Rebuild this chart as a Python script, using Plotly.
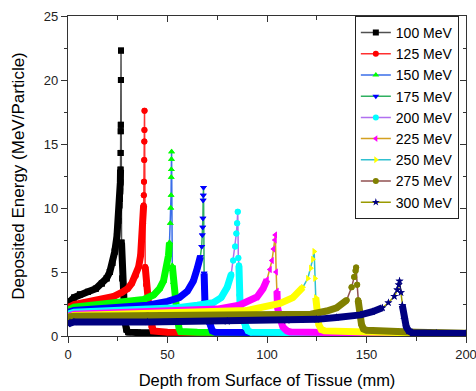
import plotly.graph_objects as go

# ---------------- data ----------------
energies = ["100 MeV", "125 MeV", "150 MeV", "175 MeV", "200 MeV",
            "225 MeV", "250 MeV", "275 MeV", "300 MeV"]

depth_100 = [0, 1, 3, 6, 10, 14, 17, 19.4, 21, 22.3, 23.5, 24.6, 25.3, 25.8, 26.05, 26.2, 26.3,
             26.4, 26.45, 26.5, 26.55, 26.6, 26.65, 26.9, 27.3, 27.8, 28.6, 29.4, 30.3, 35, 50,
             75, 100, 125, 150, 175, 200]
dose_100 = [2.2, 2.7, 3.0, 3.25, 3.45, 3.7, 4.1, 4.5, 5.0, 5.7, 6.6, 7.8, 9.0, 10.2, 10.7,
            11.3, 12.0, 13.0, 14.3, 16.0, 16.5, 20.0, 22.3, 7.3, 4.5, 2.6, 1.1, 0.5, 0.3, 0.27,
            0.25, 0.23, 0.21, 0.19, 0.17, 0.15, 0.13]

depth_125 = [0, 1, 3, 8, 13, 18, 23, 27, 30, 32, 34, 35.5, 36.5, 37.2, 37.7, 38.0, 38.1,
             38.2, 38.3, 38.35, 38.4, 38.45, 38.8, 39.3, 40.5, 41.3, 42.0, 42.8, 50, 75, 100,
             125, 150, 175, 200]
dose_125 = [1.95, 2.3, 2.45, 2.6, 2.75, 2.9, 3.1, 3.4, 3.7, 4.1, 4.7, 5.4, 6.3, 7.5, 8.8,
            10.2, 11.0, 12.05, 13.75, 15.2, 16.1, 17.6, 5.4, 4.0, 2.5, 1.5, 0.7, 0.4, 0.3,
            0.27, 0.24, 0.21, 0.18, 0.16, 0.14]

depth_150 = [0, 1, 3, 10, 20, 30, 38, 43, 46, 48, 49.5, 50.5, 51.0, 51.4, 51.65, 51.8,
             51.88, 51.94, 52.0, 52.05, 52.4, 53.0, 54.0, 55.0, 55.8, 56.5, 65, 80, 100, 125,
             150, 175, 200]
dose_150 = [1.8, 2.1, 2.25, 2.35, 2.5, 2.65, 2.85, 3.2, 3.7, 4.3, 5.2, 6.3, 7.3, 8.8, 10.0,
            11.0, 12.4, 13.0, 13.8, 14.4, 5.5, 4.2, 2.8, 1.4, 0.6, 0.35, 0.3, 0.27, 0.24,
            0.21, 0.18, 0.16, 0.14]

depth_175 = [0, 1, 3, 15, 30, 40, 50, 56, 60, 63, 65, 66.5, 67.2, 67.5, 67.7, 67.8, 67.9,
             68.0, 68.1, 68.4, 68.6, 68.8, 70.0, 71.2, 72.5, 74, 90, 110, 130, 150, 175, 200]
dose_175 = [1.65, 1.9, 2.0, 2.1, 2.2, 2.4, 2.7, 3.0, 3.5, 4.3, 5.3, 6.2, 7.0, 7.9, 8.5, 9.2,
            10.6, 11.0, 11.6, 4.9, 3.6, 2.7, 1.6, 0.8, 0.4, 0.3, 0.27, 0.24, 0.21, 0.18, 0.16,
            0.14]

depth_200 = [0, 1, 3, 20, 40, 55, 65, 73, 77, 80, 82, 83, 84, 84.6, 85.0, 85.3, 85.6, 85.9,
             86.2, 86.5, 87.5, 89.0, 90.5, 92, 110, 130, 150, 175, 200]
dose_200 = [1.55, 1.75, 1.85, 1.95, 2.05, 2.2, 2.4, 2.6, 3.0, 3.8, 4.8, 5.9, 7.0, 8.0, 8.8,
            9.7, 6.1, 5.5, 3.2, 2.2, 1.4, 0.7, 0.4, 0.3, 0.27, 0.24, 0.21, 0.18, 0.15]

depth_225 = [0, 1, 3, 30, 56, 75, 86, 95, 98, 100, 101.5, 102.5, 103.3, 104.0, 104.2, 104.6,
             105.0, 105.3, 106.5, 108, 110, 111.5, 130, 150, 175, 200]
dose_225 = [1.45, 1.6, 1.7, 1.8, 1.9, 2.1, 2.4, 3.05, 3.7, 4.4, 5.2, 5.9, 6.8, 7.5, 7.9, 5.0,
            3.5, 2.2, 1.4, 0.7, 0.4, 0.32, 0.28, 0.24, 0.2, 0.16]

depth_250 = [0, 1, 3, 30, 56, 90, 106.5, 113, 118, 120.5, 122, 123, 123.7, 124.1, 124.5,
             125.0, 126.0, 127.3, 129, 150, 175, 200]
dose_250 = [1.35, 1.5, 1.6, 1.7, 1.8, 2.0, 2.55, 3.0, 3.8, 4.5, 5.3, 6.0, 6.6, 4.5, 3.0, 1.8,
            0.9, 0.5, 0.4, 0.32, 0.25, 0.18]

depth_275 = [0, 1, 3, 40, 80, 110, 122, 130, 135, 140, 142.5, 143.8, 144.5, 144.8, 145.3,
             145.8, 146.5, 147.5, 148.5, 150, 175, 200]
dose_275 = [1.3, 1.5, 1.55, 1.6, 1.62, 1.65, 1.7, 1.95, 2.2, 2.8, 3.8, 4.6, 5.1, 5.35, 4.0,
            2.8, 1.6, 0.9, 0.55, 0.45, 0.3, 0.22]

depth_300 = [0, 1, 3, 40, 80, 110, 125, 135, 147, 153, 158, 161, 164, 165.5, 166.2, 166.6,
             167.3, 168.0, 169.0, 170.0, 171.2, 173, 185, 200]
dose_300 = [0.95, 1.05, 1.1, 1.1, 1.15, 1.22, 1.3, 1.45, 1.65, 1.9, 2.2, 2.6, 3.1, 3.6, 4.0,
            4.3, 3.4, 2.4, 1.3, 0.7, 0.4, 0.25, 0.22, 0.2]

depths = [depth_100, depth_125, depth_150, depth_175, depth_200,
          depth_225, depth_250, depth_275, depth_300]
doses = [dose_100, dose_125, dose_150, dose_175, dose_200,
         dose_225, dose_250, dose_275, dose_300]

x_ticks = [0, 50, 100, 150, 200]
y_ticks = [0, 5, 10, 15, 20, 25]

# ---------------- styles ----------------
marker_colors = ["#000000", "#ff0000", "#00ff00", "#0000ff", "#00ffff",
                 "#ff00ff", "#ffff00", "#808000", "#000080"]
line_colors = ["#505050", "#ff3030", "#3a6ee8", "#2fb060", "#b070f0",
               "#d4a020", "#30c0d0", "#905050", "#9a9a00"]
symbols = ["square", "circle", "triangle-up", "triangle-down", "circle",
           "triangle-left", "triangle-right", "circle", "star"]

FONT = "Liberation Sans, Arial, sans-serif"

fig = go.Figure()

for name, xs, ys, mc, lc, sym in zip(energies, depths, doses, marker_colors,
                                     line_colors, symbols):
    peak = max(ys)
    band = [v if v <= 0.6 * peak else None for v in ys]
    marker = dict(symbol=sym, color=mc, size=6, line=dict(width=0))
    # connecting line with markers (legend entry)
    fig.add_trace(go.Scatter(x=xs, y=ys, mode="lines+markers", name=name,
                             line=dict(color=lc, width=1.5), marker=marker))
    # dense-marker band (plateau part) drawn over the thin line
    fig.add_trace(go.Scatter(x=xs, y=band, mode="lines",
                             line=dict(color=mc, width=7),
                             showlegend=False, hoverinfo="skip",
                             connectgaps=False))
    # markers on top
    fig.add_trace(go.Scatter(x=xs, y=ys, mode="markers", marker=marker,
                             showlegend=False, hoverinfo="skip"))

# dummy trace for the mirrored (top/right) axes
fig.add_trace(go.Scatter(x=[None], y=[None], xaxis="x2", yaxis="y2",
                         showlegend=False, hoverinfo="skip"))

axis_common = dict(showgrid=False, zeroline=False, showline=True,
                   linecolor="#333333", linewidth=1.2,
                   tickcolor="#333333", tickwidth=1, automargin=False,
                   ticklabeloverflow="allow",
                   tickfont=dict(family=FONT, size=13, color="#222222"))

fig.update_layout(
    width=476, height=391,
    margin=dict(l=68, r=10, t=16, b=55),
    plot_bgcolor="white", paper_bgcolor="white",
    font=dict(family=FONT, color="#000000"),
    xaxis=dict(range=[0, 200], tickvals=x_ticks, ticks="outside", ticklen=6,
               minor=dict(ticks="outside", ticklen=4, tick0=0, dtick=25,
                          tickcolor="#333333"),
               title=dict(text="Depth from Surface of Tissue (mm)",
                          font=dict(family=FONT, size=16.5, color="#000000"),
                          standoff=13),
               **axis_common),
    yaxis=dict(range=[0, 25], tickvals=y_ticks, ticks="outside", ticklen=6,
               minor=dict(ticks="outside", ticklen=3, tick0=0, dtick=2.5,
                          tickcolor="#333333"),
               title=dict(text="Deposited Energy (MeV/Particle)",
                          font=dict(family=FONT, size=17, color="#000000"),
                          standoff=14),
               **axis_common),
    xaxis2=dict(range=[0, 200], overlaying="x", side="top", anchor="y",
                tickvals=x_ticks, ticks="inside", ticklen=6,
                showticklabels=False,
                minor=dict(ticks="inside", ticklen=4, tick0=0, dtick=25,
                           tickcolor="#333333"),
                **axis_common),
    yaxis2=dict(range=[0, 25], overlaying="y", side="right", anchor="x",
                tickvals=y_ticks, ticks="inside", ticklen=6,
                showticklabels=False,
                minor=dict(ticks="inside", ticklen=3, tick0=0, dtick=2.5,
                           tickcolor="#333333"),
                **axis_common),
    legend=dict(x=0.982, y=1.0, xanchor="right", yanchor="top",
                bgcolor="white", bordercolor="#222222", borderwidth=1,
                font=dict(family=FONT, size=14, color="#000000"),
                tracegroupgap=0, itemwidth=30),
)

fig.write_html("out.html",
               config={"displayModeBar": False},
               post_script="document.body.style.margin='0';"
                           "document.body.style.overflow='hidden';")
